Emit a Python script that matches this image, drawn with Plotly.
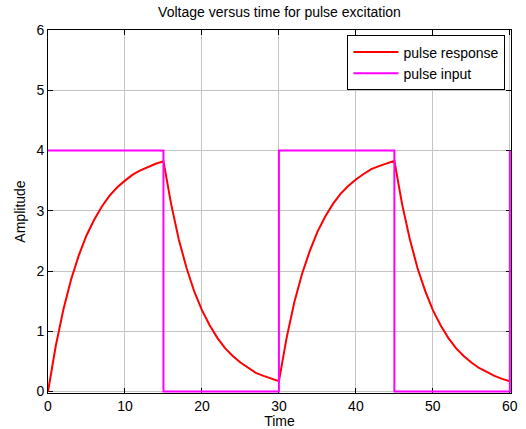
import plotly.graph_objects as go

# Time samples (s)
t = list(range(0, 61))

# Pulse response values (amplitude)
response = [
    0.00, 0.75, 1.36, 1.86, 2.26, 2.59, 2.85, 3.07, 3.25, 3.39, 3.50,
    3.60, 3.67, 3.73, 3.78, 3.82,
    3.11, 2.52, 2.05, 1.66, 1.35, 1.10, 0.89, 0.72, 0.59, 0.48,
    0.39, 0.31, 0.26, 0.21, 0.17,
    0.89, 1.48, 1.95, 2.33, 2.65, 2.90, 3.11, 3.28, 3.41, 3.52,
    3.61, 3.69, 3.74, 3.79, 3.83,
    3.11, 2.53, 2.05, 1.67, 1.35, 1.10, 0.89, 0.72, 0.59, 0.48,
    0.39, 0.32, 0.26, 0.21, 0.17,
]

# Pulse input (square wave) corner points
pulse_t = [0, 15, 15, 30, 30, 45, 45, 60, 60]
pulse_v = [4, 4, 0, 0, 4, 4, 0, 0, 4]

x_ticks = [0, 10, 20, 30, 40, 50, 60]
y_ticks = [0, 1, 2, 3, 4, 5, 6]

FONT = "Liberation Sans, Arial, sans-serif"
FS = 14

fig = go.Figure()
fig.add_trace(go.Scatter(x=t, y=response, mode="lines", name="pulse response",
                         line=dict(color="#ff0000", width=2)))
fig.add_trace(go.Scatter(x=pulse_t, y=pulse_v, mode="lines", name="pulse input",
                         line=dict(color="#ff00ff", width=2)))

axis_common = dict(
    showline=True, linecolor="black", linewidth=1, mirror="ticks",
    ticks="inside", ticklen=5, tickcolor="black", tickwidth=1,
    showgrid=True, gridcolor="#c4c4c4", gridwidth=1,
    zeroline=False, layer="below traces", automargin=False,
    tickfont=dict(family=FONT, size=FS, color="black"),
)

fig.update_layout(
    width=526, height=429,
    margin=dict(l=48, r=15, t=30, b=36),
    paper_bgcolor="white", plot_bgcolor="white",
    title=dict(text="Voltage versus time for pulse excitation", x=0.5, xanchor="center",
               xref="paper",
               y=1 - 12 / 429, yanchor="middle", automargin=False,
               font=dict(family=FONT, size=FS, color="black")),
    xaxis=dict(range=[0, 60.15], tickvals=x_ticks,
               title=dict(text="Time", font=dict(family=FONT, size=FS, color="black"), standoff=2),
               **axis_common),
    yaxis=dict(range=[-0.025, 6], tickvals=y_ticks,
               title=dict(text="Amplitude", font=dict(family=FONT, size=FS, color="black"), standoff=7),
               **axis_common),
    legend=dict(x=0.988, y=0.985, xanchor="right", yanchor="top",
                bordercolor="black", borderwidth=1, bgcolor="white",
                font=dict(family=FONT, size=FS, color="black"),
                tracegroupgap=0, itemwidth=45),
    showlegend=True,
)

fig.write_html("out.html",
               config={"displayModeBar": False},
               post_script="document.body.style.margin='0px';document.body.style.overflow='hidden';")
